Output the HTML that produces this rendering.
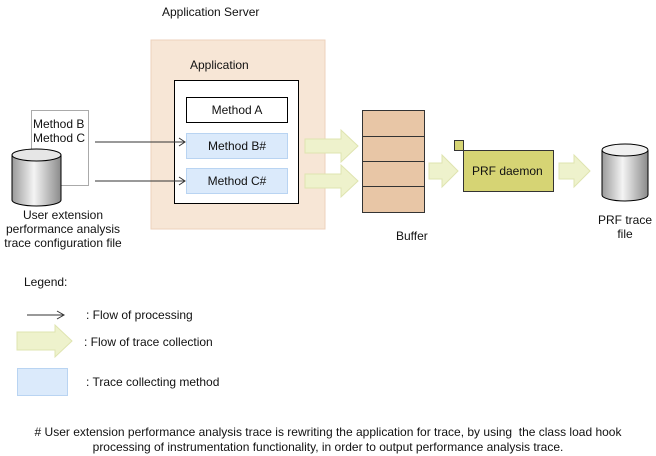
<!DOCTYPE html>
<html><head><style>
body{margin:0;width:656px;height:456px;background:#fff;position:relative;overflow:hidden;font-family:"Liberation Sans",Arial,sans-serif;font-size:12px;color:#111}
.t{position:absolute;white-space:nowrap;line-height:14px}
.c{text-align:center}
svg{position:absolute;left:0;top:0}
</style></head><body>
<svg width="656" height="456" viewBox="0 0 656 456">
<defs>
<linearGradient id="cy" x1="0" x2="1">
<stop offset="0" stop-color="#9a9a9a"/><stop offset="0.45" stop-color="#f4f4f4"/><stop offset="1" stop-color="#8a8a8a"/>
</linearGradient>
</defs>
<rect x="151" y="40" width="174" height="189" fill="#f7e6d6" stroke="#ecd2bc"/>
<rect x="174.5" y="80.5" width="124" height="123" fill="#fff" stroke="#000"/>
<rect x="186.5" y="97.5" width="101" height="25" fill="#fff" stroke="#000"/>
<rect x="186.5" y="133.5" width="101" height="25" fill="#dbeafb" stroke="#b9d4f2"/>
<rect x="186.5" y="168.5" width="101" height="25" fill="#dbeafb" stroke="#b9d4f2"/>
<rect x="31.5" y="110.5" width="57" height="75" fill="#fff" stroke="#aaa"/>
<path d="M12 155 V200 A24.5 6 0 0 0 61 200 V155" fill="url(#cy)" stroke="#000"/>
<ellipse cx="36.5" cy="155" rx="24.5" ry="6" fill="#e6e6e6" stroke="#000"/>
<g stroke="#333" fill="none" stroke-width="1">
<line x1="95" y1="142" x2="185" y2="142"/><polyline points="179,138 185,142 179,146"/>
<line x1="95" y1="181" x2="185" y2="181"/><polyline points="179,177 185,181 179,185"/>
<line x1="27" y1="315" x2="64" y2="315"/><polyline points="57,311 64,315 57,319"/>
</g>
<g fill="#eef2cc" stroke="#dfe4b0">
<path d="M305 139 H341 V130 L358 146 L341 162 V153 H305 Z"/>
<path d="M305 174 H341 V165 L358 181 L341 197 V188 H305 Z"/>
<path d="M429 163 H442 V155 L458 171 L442 187 V179 H429 Z"/>
<path d="M559 163 H574 V155 L590 171 L574 187 V179 H559 Z"/>
<path d="M17 332 H55 V325 L72 341 L55 357 V350 H17 Z"/>
</g>
<rect x="362.5" y="110.5" width="62" height="102" fill="#e8c6a6" stroke="#333"/>
<line x1="362" y1="136.5" x2="425" y2="136.5" stroke="#333"/>
<line x1="362" y1="161.5" x2="425" y2="161.5" stroke="#333"/>
<line x1="362" y1="186.5" x2="425" y2="186.5" stroke="#333"/>
<rect x="454.5" y="140.5" width="9" height="10" fill="#d6d474" stroke="#333"/>
<rect x="463.5" y="150.5" width="90" height="41" fill="#d6d474" stroke="#333"/>
<path d="M602 150 V195 A23 6 0 0 0 648 195 V150" fill="url(#cy)" stroke="#000"/>
<ellipse cx="625" cy="150" rx="23" ry="6" fill="#f0f0f0" stroke="#000"/>
<rect x="17.5" y="368.5" width="50" height="27" fill="#dbeafb" stroke="#b9d4f2"/>
</svg>
<div class="t" style="left:162px;top:5px">Application Server</div>
<div class="t" style="left:190px;top:58px">Application</div>
<div class="t c" style="left:186px;top:103px;width:102px">Method A</div>
<div class="t c" style="left:186px;top:139px;width:102px">Method B#</div>
<div class="t c" style="left:186px;top:174px;width:102px">Method C#</div>
<div class="t" style="left:33px;top:117px">Method B<br>Method C</div>
<div class="t c" style="left:0px;top:208px;width:126px">User extension<br>performance analysis<br>trace configuration file</div>
<div class="t" style="left:396px;top:229px">Buffer</div>
<div class="t" style="left:472px;top:164px">PRF daemon</div>
<div class="t c" style="left:590px;top:213px;width:70px">PRF trace<br>file</div>
<div class="t" style="left:24px;top:275px">Legend:</div>
<div class="t" style="left:86px;top:308px">: Flow of processing</div>
<div class="t" style="left:84px;top:335px">: Flow of trace collection</div>
<div class="t" style="left:86px;top:375px">: Trace collecting method</div>
<div class="t c" style="left:0px;top:425px;width:656px;font-size:12px;line-height:15px">#&nbsp;User extension performance analysis trace is rewriting the application for trace, by using&nbsp; the class load hook<br>processing of instrumentation functionality, in order to output performance analysis trace.</div>
</body></html>
